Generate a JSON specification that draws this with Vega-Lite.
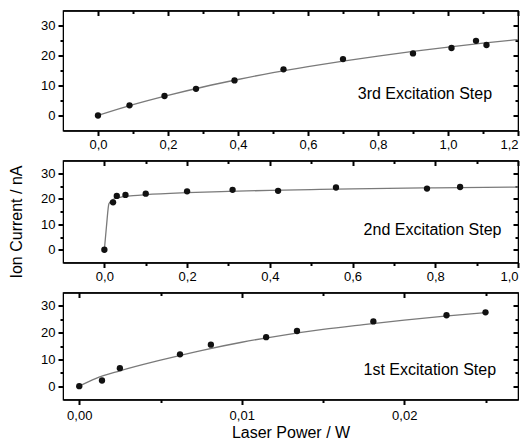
{
  "$schema": "https://vega.github.io/schema/vega-lite/v6.json",
  "padding": {"left": 7, "top": 8.5, "right": 0, "bottom": 0},
  "spacing": 6,
  "config": {
    "view": {"stroke": "black", "strokeWidth": 1.2},
    "font": "Liberation Sans",
    "axis": {
      "domainColor": "black", "labelColor": "black",
      "labelFont": "Liberation Sans", "labelFontSize": 13,
      "titleFont": "Liberation Sans", "titleFontSize": 16, "titleFontWeight": "normal", "titleColor": "black",
      "grid": false, "labelPadding": 3
    }
  },
  "datasets": {
    "pts3": [
      {"power": 0, "current": 0}, {"power": 0.09, "current": 3.4}, {"power": 0.19, "current": 6.5},
      {"power": 0.28, "current": 8.9}, {"power": 0.39, "current": 11.7}, {"power": 0.53, "current": 15.4},
      {"power": 0.70, "current": 18.8}, {"power": 0.90, "current": 20.7}, {"power": 1.01, "current": 22.5},
      {"power": 1.08, "current": 24.9}, {"power": 1.11, "current": 23.5}
    ],
    "fit3": [
      {"power": 0, "current": 0}, {"power": 0.1, "current": 3.6}, {"power": 0.2, "current": 6.7},
      {"power": 0.3, "current": 9.5}, {"power": 0.4, "current": 12.0}, {"power": 0.5, "current": 14.3},
      {"power": 0.6, "current": 16.3}, {"power": 0.7, "current": 18.1}, {"power": 0.8, "current": 19.8},
      {"power": 0.9, "current": 21.4}, {"power": 1.0, "current": 22.8}, {"power": 1.1, "current": 24.1},
      {"power": 1.2, "current": 25.3}
    ],
    "pts2": [
      {"power": 0, "current": 0}, {"power": 0.021, "current": 18.6}, {"power": 0.030, "current": 21.1},
      {"power": 0.051, "current": 21.5}, {"power": 0.10, "current": 22.0}, {"power": 0.20, "current": 22.9},
      {"power": 0.31, "current": 23.5}, {"power": 0.42, "current": 23.1}, {"power": 0.56, "current": 24.4},
      {"power": 0.78, "current": 24.0}, {"power": 0.86, "current": 24.6}
    ],
    "fit2": [
      {"power": 0, "current": 0}, {"power": 0.005, "current": 9.0}, {"power": 0.011, "current": 18.0},
      {"power": 0.02, "current": 19.7}, {"power": 0.04, "current": 20.6}, {"power": 0.07, "current": 21.2},
      {"power": 0.1, "current": 21.6}, {"power": 0.2, "current": 22.4}, {"power": 0.3, "current": 22.9},
      {"power": 0.4, "current": 23.3}, {"power": 0.5, "current": 23.6}, {"power": 0.6, "current": 23.9},
      {"power": 0.8, "current": 24.3}, {"power": 1.0, "current": 24.6}
    ],
    "pts1": [
      {"power": 0, "current": 0}, {"power": 0.0014, "current": 2.1}, {"power": 0.0025, "current": 6.7},
      {"power": 0.0062, "current": 11.9}, {"power": 0.0081, "current": 15.5}, {"power": 0.0115, "current": 18.3},
      {"power": 0.0134, "current": 20.6}, {"power": 0.0181, "current": 24.2}, {"power": 0.0226, "current": 26.5},
      {"power": 0.025, "current": 27.6}
    ],
    "fit1": [
      {"power": 0, "current": 0}, {"power": 0.001, "current": 2.8}, {"power": 0.0025, "current": 5.7},
      {"power": 0.005, "current": 9.7}, {"power": 0.0075, "current": 13.3}, {"power": 0.01, "current": 16.4},
      {"power": 0.0125, "current": 19.0}, {"power": 0.015, "current": 21.2}, {"power": 0.0175, "current": 23.0},
      {"power": 0.02, "current": 24.7}, {"power": 0.0225, "current": 26.2}, {"power": 0.025, "current": 27.5}
    ],
    "lab3": [{"label": "3rd Excitation Step"}],
    "lab2": [{"label": "2nd Excitation Step"}],
    "lab1": [{"label": "1st Excitation Step"}]
  },
  "vconcat": [
    {
      "width": 455, "height": 120,
      "layer": [
        {
          "data": {"name": "fit3"},
          "mark": {"type": "line", "color": "#7a7a7a", "strokeWidth": 1.3, "interpolate": "monotone"},
          "encoding": {
            "x": {"field": "power", "type": "quantitative", "scale": {"domain": [-0.1, 1.2], "nice": false, "zero": false},
              "axis": {"orient": "bottom", "title": null, "values": [0, 0.2, 0.4, 0.6, 0.8, 1.0, 1.2], "tickColor": "black", "tickWidth": 2, "tickSize": 5,
                "labelExpr": "replace(format(datum.value,'.1f'),'.',',')"}},
            "y": {"field": "current", "type": "quantitative", "scale": {"domain": [-5, 35], "nice": false, "zero": false},
              "axis": {"orient": "left", "title": null, "values": [0, 10, 20, 30], "tickColor": "black", "tickWidth": 2, "tickSize": 5}}
          }
        },
        {
          "data": {"name": "pts3"},
          "mark": {"type": "circle", "size": 40, "color": "#111111", "opacity": 1},
          "encoding": {
            "x": {"field": "power", "type": "quantitative",
              "axis": {"orient": "top", "title": null, "labels": false, "values": [0, 0.2, 0.4, 0.6, 0.8, 1.0, 1.2], "tickColor": "black", "tickWidth": 2, "tickSize": -5}},
            "y": {"field": "current", "type": "quantitative",
              "axis": {"orient": "right", "title": null, "labels": false, "values": [0, 10, 20, 30], "tickColor": "black", "tickWidth": 2, "tickSize": -5}}
          }
        },
        {
          "data": {"name": "fit3"},
          "mark": {"type": "line", "opacity": 0},
          "encoding": {
            "x": {"field": "power", "type": "quantitative",
              "axis": {"orient": "bottom", "title": null, "labels": false, "values": [0.1, 0.3, 0.5, 0.7, 0.9, 1.1], "tickColor": "black", "tickWidth": 2, "tickSize": 3}},
            "y": {"field": "current", "type": "quantitative",
              "axis": {"orient": "left", "title": null, "labels": false, "values": [5, 15, 25], "tickColor": "black", "tickWidth": 2, "tickSize": 3}}
          }
        },
        {
          "data": {"name": "fit3"},
          "mark": {"type": "line", "opacity": 0},
          "encoding": {
            "x": {"field": "power", "type": "quantitative",
              "axis": {"orient": "top", "title": null, "labels": false, "values": [0.1, 0.3, 0.5, 0.7, 0.9, 1.1], "tickColor": "black", "tickWidth": 2, "tickSize": -3}},
            "y": {"field": "current", "type": "quantitative",
              "axis": {"orient": "right", "title": null, "labels": false, "values": [5, 15, 25], "tickColor": "black", "tickWidth": 2, "tickSize": -3}}
          }
        },
        {
          "data": {"name": "lab3"},
          "mark": {"type": "text", "align": "right", "baseline": "middle", "fontSize": 16, "font": "Liberation Sans", "color": "black"},
          "encoding": {
            "x": {"datum": 1.126, "type": "quantitative", "axis": null},
            "y": {"datum": 7.2, "type": "quantitative", "axis": null},
            "text": {"field": "label"}
          }
        }
      ],
      "resolve": {"axis": {"x": "independent", "y": "independent"}}
    },
    {
      "width": 455, "height": 102,
      "layer": [
        {
          "data": {"name": "fit2"},
          "mark": {"type": "line", "color": "#7a7a7a", "strokeWidth": 1.3, "interpolate": "monotone"},
          "encoding": {
            "x": {"field": "power", "type": "quantitative", "scale": {"domain": [-0.1, 1.0], "nice": false, "zero": false},
              "axis": {"orient": "bottom", "title": null, "values": [0, 0.2, 0.4, 0.6, 0.8, 1.0], "tickColor": "black", "tickWidth": 2, "tickSize": 5,
                "labelExpr": "replace(format(datum.value,'.1f'),'.',',')"}},
            "y": {"field": "current", "type": "quantitative", "scale": {"domain": [-5, 35], "nice": false, "zero": false},
              "axis": {"orient": "left", "title": "Ion Current / nA", "titlePadding": 16, "titleY": 61, "values": [0, 10, 20, 30], "tickColor": "black", "tickWidth": 2, "tickSize": 5}}
          }
        },
        {
          "data": {"name": "pts2"},
          "mark": {"type": "circle", "size": 40, "color": "#111111", "opacity": 1},
          "encoding": {
            "x": {"field": "power", "type": "quantitative",
              "axis": {"orient": "top", "title": null, "labels": false, "values": [0, 0.2, 0.4, 0.6, 0.8, 1.0], "tickColor": "black", "tickWidth": 2, "tickSize": -5}},
            "y": {"field": "current", "type": "quantitative",
              "axis": {"orient": "right", "title": null, "labels": false, "values": [0, 10, 20, 30], "tickColor": "black", "tickWidth": 2, "tickSize": -5}}
          }
        },
        {
          "data": {"name": "fit2"},
          "mark": {"type": "line", "opacity": 0},
          "encoding": {
            "x": {"field": "power", "type": "quantitative",
              "axis": {"orient": "bottom", "title": null, "labels": false, "values": [0.1, 0.3, 0.5, 0.7, 0.9], "tickColor": "black", "tickWidth": 2, "tickSize": 3}},
            "y": {"field": "current", "type": "quantitative",
              "axis": {"orient": "left", "title": null, "labels": false, "values": [5, 15, 25], "tickColor": "black", "tickWidth": 2, "tickSize": 3}}
          }
        },
        {
          "data": {"name": "fit2"},
          "mark": {"type": "line", "opacity": 0},
          "encoding": {
            "x": {"field": "power", "type": "quantitative",
              "axis": {"orient": "top", "title": null, "labels": false, "values": [0.1, 0.3, 0.5, 0.7, 0.9], "tickColor": "black", "tickWidth": 2, "tickSize": -3}},
            "y": {"field": "current", "type": "quantitative",
              "axis": {"orient": "right", "title": null, "labels": false, "values": [5, 15, 25], "tickColor": "black", "tickWidth": 2, "tickSize": -3}}
          }
        },
        {
          "data": {"name": "lab2"},
          "mark": {"type": "text", "align": "right", "baseline": "middle", "fontSize": 16, "font": "Liberation Sans", "color": "black"},
          "encoding": {
            "x": {"datum": 0.96, "type": "quantitative", "axis": null},
            "y": {"datum": 7.8, "type": "quantitative", "axis": null},
            "text": {"field": "label"}
          }
        }
      ],
      "resolve": {"axis": {"x": "independent", "y": "independent"}}
    },
    {
      "width": 455, "height": 107,
      "layer": [
        {
          "data": {"name": "fit1"},
          "mark": {"type": "line", "color": "#7a7a7a", "strokeWidth": 1.3, "interpolate": "monotone"},
          "encoding": {
            "x": {"field": "power", "type": "quantitative", "scale": {"domain": [-0.001, 0.027], "nice": false, "zero": false},
              "axis": {"orient": "bottom", "title": "Laser Power / W", "titlePadding": 2, "labelPadding": 5, "values": [0, 0.01, 0.02], "tickColor": "black", "tickWidth": 2, "tickSize": 5,
                "labelExpr": "replace(format(datum.value,'.2f'),'.',',')"}},
            "y": {"field": "current", "type": "quantitative", "scale": {"domain": [-5, 35], "nice": false, "zero": false},
              "axis": {"orient": "left", "title": null, "values": [0, 10, 20, 30], "tickColor": "black", "tickWidth": 2, "tickSize": 5}}
          }
        },
        {
          "data": {"name": "pts1"},
          "mark": {"type": "circle", "size": 40, "color": "#111111", "opacity": 1},
          "encoding": {
            "x": {"field": "power", "type": "quantitative",
              "axis": {"orient": "top", "title": null, "labels": false, "values": [0, 0.01, 0.02], "tickColor": "black", "tickWidth": 2, "tickSize": -5}},
            "y": {"field": "current", "type": "quantitative",
              "axis": {"orient": "right", "title": null, "labels": false, "values": [0, 10, 20, 30], "tickColor": "black", "tickWidth": 2, "tickSize": -5}}
          }
        },
        {
          "data": {"name": "fit1"},
          "mark": {"type": "line", "opacity": 0},
          "encoding": {
            "x": {"field": "power", "type": "quantitative",
              "axis": {"orient": "bottom", "title": null, "labels": false, "values": [0.005, 0.015, 0.025], "tickColor": "black", "tickWidth": 2, "tickSize": 3}},
            "y": {"field": "current", "type": "quantitative",
              "axis": {"orient": "left", "title": null, "labels": false, "values": [5, 15, 25], "tickColor": "black", "tickWidth": 2, "tickSize": 3}}
          }
        },
        {
          "data": {"name": "fit1"},
          "mark": {"type": "line", "opacity": 0},
          "encoding": {
            "x": {"field": "power", "type": "quantitative",
              "axis": {"orient": "top", "title": null, "labels": false, "values": [0.005, 0.015, 0.025], "tickColor": "black", "tickWidth": 2, "tickSize": -3}},
            "y": {"field": "current", "type": "quantitative",
              "axis": {"orient": "right", "title": null, "labels": false, "values": [5, 15, 25], "tickColor": "black", "tickWidth": 2, "tickSize": -3}}
          }
        },
        {
          "data": {"name": "lab1"},
          "mark": {"type": "text", "align": "right", "baseline": "middle", "fontSize": 16, "font": "Liberation Sans", "color": "black"},
          "encoding": {
            "x": {"datum": 0.02565, "type": "quantitative", "axis": null},
            "y": {"datum": 6.0, "type": "quantitative", "axis": null},
            "text": {"field": "label"}
          }
        }
      ],
      "resolve": {"axis": {"x": "independent", "y": "independent"}}
    }
  ]
}
